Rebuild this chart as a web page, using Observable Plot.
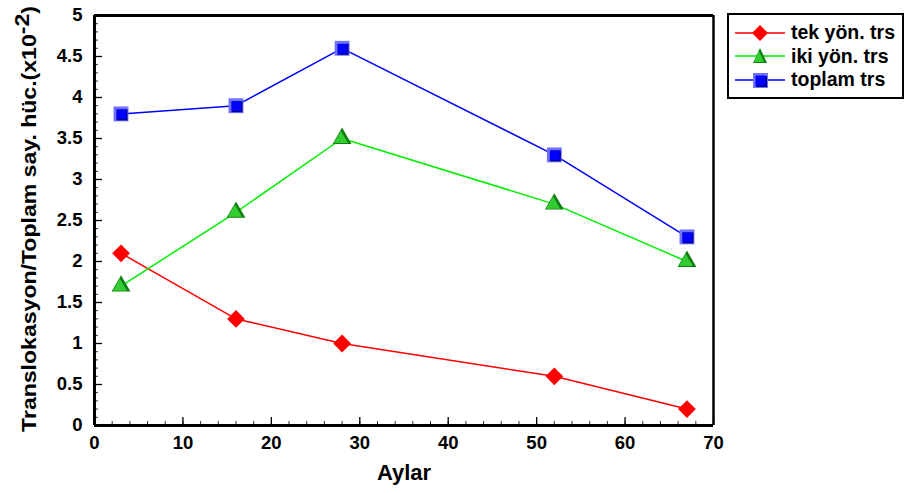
<!DOCTYPE html>
<html>
<head>
<meta charset="utf-8">
<script src="https://cdn.jsdelivr.net/npm/d3@7"></script>
<script src="https://cdn.jsdelivr.net/npm/@observablehq/plot@0.6"></script>
<style>
  body { margin: 0; background: #fff; font-family: Arial, "Liberation Sans", sans-serif; }
  #chart { position: relative; width: 905px; height: 493px; }
  #legend {
    position: absolute; left: 727px; top: 13px; width: 177px; height: 86px;
    border: 2px solid #000; box-sizing: border-box; background: #fff;
    padding-top: 6px;
  }
  .row { display: flex; align-items: center; height: 23.5px; }
  .row svg { margin-left: 6px; flex: none; }
  .row span { font-weight: bold; font-size: 19.5px; color: #000; margin-left: 6px; white-space: nowrap; }
</style>
</head>
<body>
<div id="chart"><div id="legend"></div></div>
<script>
// Months of follow-up
const months = [3, 16, 28, 52, 67];
// Translocations per total cell count (x10^-2)
const tekYon = [2.1, 1.3, 1.0, 0.6, 0.2];
const ikiYon = [1.7, 2.6, 3.5, 2.7, 2.0];
const toplam = [3.8, 3.9, 4.6, 3.3, 2.3];
const seriesNames = ["tek yön. trs", "iki yön. trs", "toplam trs"];
const seriesColors = ["#ff0000", "#00ee00", "#0000ff"];

const xTicks = [0, 10, 20, 30, 40, 50, 60, 70];
const yTicks = [0, 0.5, 1, 1.5, 2, 2.5, 3, 3.5, 4, 4.5, 5];
const yTickLabels = ["0", "0.5", "1", "1.5", "2", "2.5", "3", "3.5", "4", "4.5", "5"];
const xMinorTicks = d3.range(0, 71, 2);
const yMinorTicks = d3.range(0, 51).map(i => i / 10);

const rows = months.map((m, i) => ({m, tek: tekYon[i], iki: ikiYon[i], top: toplam[i]}));

const chart = Plot.plot({
  width: 905,
  height: 493,
  marginLeft: 94,
  marginRight: 192,
  marginTop: 15,
  marginBottom: 68,
  style: {fontFamily: "Arial, 'Liberation Sans', sans-serif", fontWeight: "bold", fontSize: "18px", color: "#000", background: "#fff", overflow: "visible"},
  x: {domain: [0, 70]},
  y: {domain: [0, 5]},
  marks: [
    // inward ticks
    Plot.axisX(xMinorTicks, {tickSize: -4, text: null, label: null, stroke: "#333"}),
    Plot.axisX(xTicks, {tickSize: -8, text: null, label: null, strokeWidth: 1.3}),
    Plot.axisX(xTicks, {tickSize: 0, tickPadding: 10, label: null, fontSize: 18.5}),
    Plot.axisY(yMinorTicks, {tickSize: -4, text: null, label: null, stroke: "#333"}),
    Plot.axisY(yTicks, {tickSize: -8, text: null, label: null, strokeWidth: 1.3}),
    Plot.axisY(yTicks, {tickSize: 0, tickPadding: 12, label: null, fontSize: 18.5,
      tickFormat: (d, i) => yTickLabels[i]}),
    // frame
    Plot.ruleX([0], {strokeWidth: 3}),
    Plot.ruleY([0], {strokeWidth: 3}),
    Plot.ruleY([5], {strokeWidth: 3}),
    Plot.ruleX([70], {strokeWidth: 2.5}),
    // series lines
    Plot.line(rows, {x: "m", y: "tek", stroke: seriesColors[0], strokeWidth: 1.5}),
    Plot.line(rows, {x: "m", y: "iki", stroke: seriesColors[1], strokeWidth: 1.5}),
    Plot.line(rows, {x: "m", y: "top", stroke: seriesColors[2], strokeWidth: 1.5}),
    // markers: diamond
    Plot.dot(rows, {x: "m", y: "tek", symbol: "diamond2", r: 8, fill: "#ff0000"}),
    // markers: shaded triangle
    Plot.dot(rows, {x: "m", y: "iki", symbol: "triangle", r: 7, fill: "#0f7f0f"}),
    Plot.dot(rows, {x: "m", y: "iki", symbol: "triangle", r: 5.2, fill: "#33cc33", dx: -1.2, dy: 0.5}),
    // markers: bevelled square
    Plot.dot(rows, {x: "m", y: "top", symbol: "square", r: 8.4, fill: "#7070ff"}),
    Plot.dot(rows, {x: "m", y: "top", symbol: "square", r: 6.2, fill: "#000088", dx: 1, dy: 1}),
    Plot.dot(rows, {x: "m", y: "top", symbol: "square", r: 5.4, fill: "#0000ff", dx: 0.5, dy: 0.5}),
    // x axis title
    Plot.text(["Aylar"], {frameAnchor: "bottom", dy: 54, fontSize: 22, fontWeight: "bold"})
  ]
});

document.getElementById("chart").prepend(chart);

// rotated y axis title with raised exponent
const svg = d3.select(chart);
const yMid = 219;
const ylab = svg.append("text")
  .attr("transform", `translate(36,${yMid}) rotate(-90)`)
  .attr("text-anchor", "middle")
  .attr("font-size", 21)
  .attr("font-weight", "bold")
  .attr("fill", "#000");
ylab.append("tspan").text("Translokasyon/Toplam say. hüc.(x10");
ylab.append("tspan").attr("dy", -7).text("-2");
ylab.append("tspan").attr("dy", 7).text(")");
// stretch the title along its length to span the plot height
const len = ylab.node().getComputedTextLength();
const target = 426;
ylab.attr("transform", `translate(36,${yMid}) rotate(-90) scale(${target / len},1)`);

// legend
const legend = d3.select("#legend");
seriesNames.forEach((name, i) => {
  const row = legend.append("div").attr("class", "row");
  const g = row.append("svg").attr("width", 50).attr("height", 20);
  g.append("line").attr("x1", 0).attr("x2", 50).attr("y1", 10).attr("y2", 10)
    .attr("stroke", seriesColors[i]).attr("stroke-width", 1.5);
  if (i === 0) {
    g.append("path").attr("d", "M25,2L33,10L25,18L17,10Z").attr("fill", "#ff0000");
  } else if (i === 1) {
    g.append("path").attr("d", "M25,2L32,17L18,17Z").attr("fill", "#0f7f0f");
    g.append("path").attr("d", "M24,5L29,16L19,16Z").attr("fill", "#33cc33");
  } else {
    g.append("rect").attr("x", 18).attr("y", 3).attr("width", 15).attr("height", 15).attr("fill", "#7070ff");
    g.append("rect").attr("x", 21).attr("y", 6).attr("width", 11).attr("height", 11).attr("fill", "#000088");
    g.append("rect").attr("x", 20.5).attr("y", 5.5).attr("width", 10).attr("height", 10).attr("fill", "#0000ff");
  }
  row.append("span").text(name);
});
</script>
</body>
</html>
